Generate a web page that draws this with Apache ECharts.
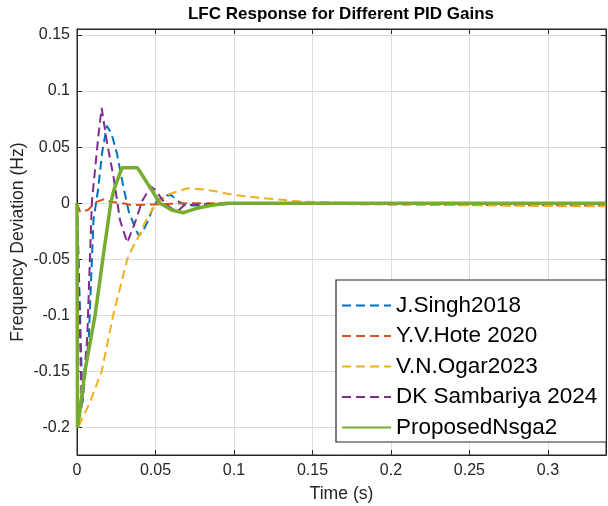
<!DOCTYPE html>
<html>
<head>
<meta charset="utf-8">
<script src="https://cdn.jsdelivr.net/npm/echarts@6/dist/echarts.min.js"></script>
<style>
  html, body { margin: 0; padding: 0; background: #fff; }
  #chart { width: 608px; height: 506px; }
</style>
</head>
<body>
<div id="chart"></div>
<script>
  // values
  var xTicks = [0, 0.05, 0.1, 0.15, 0.2, 0.25, 0.3];
  var yTicks = [-0.2, -0.15, -0.1, -0.05, 0, 0.05, 0.1, 0.15];

  var tSingh = [0, 0.0035, 0.0075, 0.0105, 0.0134, 0.016, 0.019, 0.022, 0.0255, 0.0297, 0.033, 0.038, 0.0395, 0.0423, 0.0455, 0.0486, 0.051, 0.057, 0.06, 0.064, 0.07, 0.076, 0.09, 0.12, 0.337];
  var ySingh = [0, -0.178, -0.12, -0.015, 0.012, 0.045, 0.069, 0.062, 0.044, 0.0136, -0.0075, -0.025, -0.029, -0.024, -0.015, -0.003, 0.002, 0.007, 0.0074, 0.002, -0.002, -0.002, -0.001, 0, 0];

  var tHote = [0, 0.002, 0.007, 0.012, 0.018, 0.021, 0.0295, 0.034, 0.04, 0.05, 0.07, 0.1, 0.2, 0.3, 0.337];
  var yHote = [0, -0.0075, -0.006, 0.001, 0.004, 0.0014, 0, -0.0015, -0.0015, -0.001, 0, 0, -0.001, -0.0018, -0.002];

  var tOgar = [0, 0.001, 0.008, 0.0157, 0.023, 0.032, 0.0349, 0.041, 0.043, 0.0465, 0.0497, 0.057, 0.0635, 0.0707, 0.083, 0.1, 0.119, 0.144, 0.17, 0.2, 0.25, 0.3, 0.337];
  var yOgar = [0, -0.199, -0.178, -0.15, -0.1, -0.05, -0.041, -0.025, -0.018, -0.009, -0.0015, 0.0074, 0.0103, 0.0134, 0.012, 0.0074, 0.0045, 0.0014, 0.0005, -0.0005, -0.0018, -0.0025, -0.0027];

  var tSambariya = [0, 0.003, 0.0065, 0.0092, 0.0096, 0.0115, 0.0136, 0.0157, 0.019, 0.0232, 0.0274, 0.032, 0.0375, 0.0415, 0.047, 0.0497, 0.056, 0.0635, 0.068, 0.076, 0.1, 0.337];
  var ySambariya = [0, -0.182, -0.12, -0.01, 0.003, 0.03, 0.06, 0.085, 0.055, 0.024, -0.015, -0.035, -0.015, 0.002, 0.015, 0.012, 0, -0.008, -0.002, -0.001, 0, 0];

  var tNsga2 = [0, 0.0003, 0.0017, 0.005, 0.0115, 0.0164, 0.0215, 0.0235, 0.0274, 0.0287, 0.0386, 0.0529, 0.0603, 0.0678, 0.0763, 0.085, 0.095, 0.337];
  var yNsga2 = [0, -0.2, -0.187, -0.15, -0.1, -0.05, 0, 0.012, 0.027, 0.0316, 0.0316, 0, -0.006, -0.0084, -0.0045, -0.002, 0, 0];

  var names = ['J.Singh2018', 'Y.V.Hote 2020', 'V.N.Ogar2023', 'DK Sambariya 2024', 'ProposedNsga2'];
  var colors = ['#0072BD', '#D95319', '#EDB120', '#7E2F8E', '#77AC30'];

  function pairs(t, y) {
    return t.map(function (v, i) { return [v, y[i]]; });
  }

  var font = 'Liberation Sans, Arial, Helvetica, sans-serif';
  var ink = '#262626';

  function dashed(i, t, y) {
    return {
      name: names[i],
      type: 'line',
      symbol: 'none',
      data: pairs(t, y),
      lineStyle: { color: colors[i], width: 2, type: [9, 5] },
      itemStyle: { color: colors[i] },
      animation: false
    };
  }

  function axisBase(pos, min, max, ticks) {
    return {
      type: 'value',
      position: pos,
      min: min,
      max: max,
      axisLine: { show: true, onZero: false, lineStyle: { color: ink, width: 1 } },
      axisTick: { show: true, inside: true, length: 5, customValues: ticks, lineStyle: { color: ink } },
      axisLabel: { show: false, customValues: ticks },
      splitLine: { show: false }
    };
  }

  var xMain = axisBase('bottom', 0, 0.337, xTicks);
  xMain.axisLabel = { show: true, customValues: xTicks, margin: 8, color: ink, fontSize: 16, fontFamily: font };
  xMain.splitLine = { show: true, lineStyle: { color: '#dedede', width: 1 } };
  xMain.name = 'Time (s)';
  xMain.nameLocation = 'middle';
  xMain.nameGap = 30;
  xMain.nameMoveOverlap = false;
  xMain.nameTextStyle = { color: ink, fontSize: 17.6, fontFamily: font };

  var yMain = axisBase('left', -0.2243, 0.1553, yTicks);
  yMain.axisLabel = { show: true, customValues: yTicks, margin: 7, color: ink, fontSize: 16, fontFamily: font };
  yMain.splitLine = { show: true, lineStyle: { color: '#dedede', width: 1 } };
  yMain.name = 'Frequency Deviation (Hz)';
  yMain.nameLocation = 'middle';
  yMain.nameGap = 50;
  yMain.nameMoveOverlap = false;
  yMain.nameTextStyle = { color: ink, fontSize: 17.6, fontFamily: font };

  var chart = echarts.init(document.getElementById('chart'));
  chart.setOption({
    backgroundColor: '#fff',
    animation: false,
    title: {
      text: 'LFC Response for Different PID Gains',
      left: 341,
      top: 6,
      padding: 0,
      textAlign: 'center',
      textStyle: { color: '#000', fontSize: 17, fontWeight: 'bold', fontFamily: font }
    },
    grid: {
      left: 77, right: 2, top: 29, bottom: 51,
      outerBoundsMode: 'none',
      containLabel: false,
      show: true, borderColor: ink, borderWidth: 1, backgroundColor: '#fff'
    },
    xAxis: [xMain, axisBase('top', 0, 0.337, xTicks)],
    yAxis: [yMain, axisBase('right', -0.2243, 0.1553, yTicks)],
    legend: {
      orient: 'vertical',
      left: 336,
      top: 280,
      padding: [14, 9, 3, 5],
      itemWidth: 49,
      itemHeight: 23,
      itemGap: 7.5,
      itemStyle: { opacity: 0 },
      backgroundColor: '#fff',
      borderColor: ink,
      borderWidth: 1.2,
      borderRadius: 0,
      data: names,
      textStyle: { color: '#000', fontSize: 22.5, fontFamily: font, lineHeight: 23 }
    },
    series: [
      dashed(0, tSingh, ySingh),
      dashed(1, tHote, yHote),
      dashed(2, tOgar, yOgar),
      dashed(3, tSambariya, ySambariya),
      {
        name: names[4],
        type: 'line',
        symbol: 'none',
        data: pairs(tNsga2, yNsga2),
        lineStyle: { color: colors[4], width: 3.5 },
        itemStyle: { color: colors[4] },
        animation: false
      }
    ]
  });
</script>
</body>
</html>
